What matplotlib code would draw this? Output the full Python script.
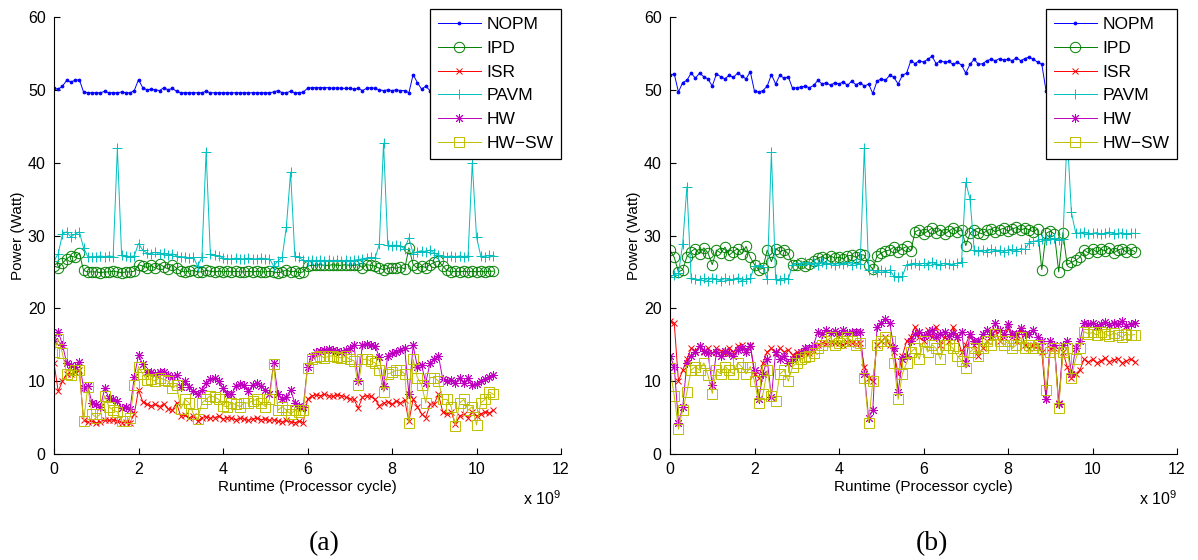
import numpy as np
import matplotlib
matplotlib.use("Agg")
import matplotlib.pyplot as plt

plt.rcParams['font.family'] = ['Liberation Sans', 'DejaVu Sans']
plt.rcParams['mathtext.default'] = 'regular'

# ---------------- data: panel (a) ----------------
runtime_a = np.round(np.arange(105) * 0.1, 1) * 1e9

nopm_a = [50.2, 50.1, 50.5, 51.3, 51.1, 51.3, 51.4, 49.7, 49.6, 49.6,
          49.6, 49.6, 49.8, 49.6, 49.6, 49.6, 49.7, 49.6, 49.6, 49.9,
          51.4, 50.3, 50.0, 50.1, 50.0, 49.9, 50.3, 50.0, 50.2, 49.8,
          49.6, 49.6, 49.6, 49.6, 49.6, 49.6, 49.8, 49.6, 49.6, 49.6,
          49.6, 49.6, 49.6, 49.6, 49.6, 49.6, 49.6, 49.6, 49.6, 49.6,
          49.6, 49.6, 49.7, 49.9, 49.6, 49.6, 49.8, 49.6, 49.6, 49.7,
          50.2, 50.3, 50.3, 50.3, 50.3, 50.3, 50.2, 50.3, 50.2, 50.2,
          50.2, 50.1, 50.2, 49.9, 50.2, 50.3, 50.2, 50.0, 49.9, 50.0,
          49.9, 50.0, 49.9, 49.9, 49.6, 52.1, 51.0, 50.1, 50.5, 49.9,
          50.3, 50.3, 50.2, 50.3, 50.3, 50.2, 50.3, 50.3, 50.2, 50.3,
          50.3, 50.2, 50.3, 50.3, 50.2]
ipd_a = [25.8, 25.6, 26.2, 26.8, 27.2, 27.0, 27.6, 25.2, 25.0, 25.0,
         25.0, 24.9, 25.0, 25.0, 25.1, 25.0, 24.9, 25.0, 25.0, 25.1,
         26.0, 25.8, 25.6, 25.9, 25.5, 26.1, 25.7, 25.4, 26.0, 25.5,
         25.1, 25.0, 25.1, 25.2, 25.0, 25.0, 25.2, 25.1, 25.0, 25.1,
         25.0, 25.1, 25.0, 25.1, 25.0, 25.0, 25.1, 25.0, 25.1, 25.0,
         25.0, 25.1, 25.0, 24.9, 25.0, 25.3, 25.0, 25.1, 24.9, 25.0,
         25.8, 25.9, 25.9, 26.0, 25.9, 25.9, 26.0, 25.9, 25.9, 26.0,
         25.9, 25.9, 26.0, 25.6, 26.0, 25.9, 25.8, 25.5, 25.3, 25.5,
         25.6, 25.5, 25.7, 25.4, 28.3, 26.0, 25.5, 25.8, 25.6, 26.0,
         26.3, 26.5, 25.8, 25.2, 25.0, 25.1, 25.0, 25.1, 25.0, 25.1,
         25.0, 25.1, 25.0, 25.1, 25.1]
isr_a = [12.5, 8.6, 10.0, 11.0, 11.0, 11.2, 11.5, 4.6, 4.4, 4.5,
         4.3, 4.4, 4.7, 4.6, 4.7, 4.5, 4.3, 4.4, 4.3, 5.5,
         8.8, 7.2, 6.8, 6.6, 6.8, 6.5, 6.9, 6.2, 6.0, 7.0,
         5.2, 5.3, 5.0, 5.2, 4.5, 5.0, 5.1, 4.9, 5.0, 5.2,
         4.8, 5.0, 4.9, 4.7, 4.9, 4.8, 4.6, 4.8, 4.9, 4.7,
         4.8, 4.6, 4.7, 4.5, 4.4, 4.6, 4.4, 4.3, 4.5, 4.3,
         7.5, 8.0, 8.1, 8.0, 8.2, 8.0, 7.9, 8.1, 8.0, 7.8,
         7.6, 7.5, 6.3, 7.8, 8.0, 7.9, 7.5, 6.6, 7.0, 7.2,
         6.8, 7.3, 7.0, 7.4, 4.5, 7.5, 6.5, 5.5, 5.0, 6.8,
         6.9, 8.2, 5.8, 5.5, 5.8, 4.1, 5.2, 5.5, 5.0, 5.8,
         5.2, 5.5, 5.8, 5.6, 6.0]
pavm_a = [26.5, 27.5, 30.2, 30.5, 29.8, 30.2, 30.5, 28.3, 27.1, 27.1,
          27.1, 27.2, 27.1, 27.2, 27.1, 42.0, 27.3, 27.2, 27.1, 27.2,
          28.9, 28.0, 27.6, 27.5, 27.7, 27.4, 27.6, 27.3, 27.5, 27.2,
          27.0, 27.1, 26.9, 27.0, 25.8, 27.0, 41.5, 27.5, 27.3, 27.2,
          26.9, 26.8, 26.8, 26.9, 26.8, 26.8, 26.9, 26.8, 26.8, 26.9,
          26.8, 26.8, 25.8, 26.5, 27.0, 31.2, 38.7, 27.2, 27.0, 26.6,
          26.5, 26.6, 26.5, 26.6, 26.5, 26.6, 26.5, 26.6, 26.5, 26.6,
          26.5, 26.6, 26.7, 26.8, 26.9, 27.0, 26.9, 28.8, 42.7, 28.7,
          28.6, 28.7, 28.5, 28.2, 29.7, 27.5, 27.8, 27.9, 27.8, 28.0,
          27.6, 27.3, 27.2, 27.1, 27.2, 27.1, 27.2, 27.1, 27.2, 40.0,
          29.8, 27.2, 27.1, 27.3, 27.2]
hw_a = [15.5, 16.8, 15.0, 12.5, 12.2, 12.0, 12.7, 9.0, 9.3, 7.0,
        6.8, 6.5, 9.0, 7.7, 7.5, 7.3, 6.3, 6.5, 6.2, 10.6,
        13.6, 12.3, 11.2, 11.3, 11.0, 11.2, 11.3, 10.8, 10.6, 10.8,
        9.2, 10.0, 9.2, 8.6, 8.2, 8.8, 9.8, 10.3, 10.4, 10.0,
        9.0, 8.3, 8.2, 9.3, 9.6, 9.5, 8.6, 9.5, 9.8, 9.3,
        8.8, 8.2, 12.5, 8.2, 7.5, 7.8, 8.8, 7.0, 6.6, 6.5,
        12.0, 13.5, 14.0, 14.2, 14.3, 14.4, 14.3, 14.2, 14.0, 14.3,
        14.5, 15.0, 10.0, 15.0, 15.1, 15.0, 14.8, 13.3, 9.4, 13.5,
        13.8, 14.0, 14.3, 14.5, 8.2, 14.9, 12.0, 12.2, 9.8, 12.5,
        13.0, 13.5, 10.3, 10.0, 10.2, 9.8, 10.5, 9.7, 10.4, 9.5,
        9.6, 10.0, 10.3, 10.6, 10.8]
hwsw_a = [14.0, 15.8, 13.8, 11.0, 10.8, 11.5, 11.5, 4.5, 9.2, 5.5,
          5.0, 5.5, 8.0, 6.5, 6.0, 5.8, 4.5, 4.5, 5.0, 9.5,
          12.0, 11.0, 10.2, 10.3, 10.0, 10.5, 10.2, 10.0, 9.0, 9.5,
          6.2, 7.5, 7.0, 5.5, 4.8, 7.0, 7.5, 8.0, 7.8, 7.5,
          6.6, 6.5, 7.0, 6.8, 6.5, 7.0, 7.0, 7.3, 7.5, 7.0,
          6.5, 7.5, 12.3, 6.0, 6.5, 6.0, 5.5, 6.0, 5.8, 6.0,
          11.8, 13.0, 13.3, 13.5, 13.2, 13.4, 13.5, 13.3, 13.2, 13.4,
          13.0, 12.8, 9.5, 13.0, 13.0, 12.8, 12.5, 11.5, 8.5, 11.0,
          11.2, 11.5, 11.5, 11.0, 4.2, 13.0, 10.5, 9.5, 7.0, 10.5,
          10.5, 10.0, 7.5, 7.5, 6.5, 3.9, 7.0, 7.5, 6.0, 6.5,
          4.0, 7.0, 7.5, 8.5, 8.2]

# ---------------- data: panel (b) ----------------
runtime_b = np.round(np.arange(111) * 0.1, 1) * 1e9

nopm_b = [52.0, 52.2, 49.7, 51.0, 51.3, 52.3, 51.6, 52.3, 51.8, 51.5,
          50.5, 52.2, 51.8, 51.5, 52.0, 51.7, 52.3, 51.9, 51.5, 52.5,
          49.8, 49.7, 49.9, 50.5, 52.1, 50.8, 52.0, 51.6, 51.8, 50.2,
          50.3, 50.4, 50.5, 50.3, 50.6, 51.3, 50.8, 51.0, 50.6, 51.0,
          50.8, 51.1, 50.6, 51.2, 50.7, 51.0, 50.5, 50.8, 49.5, 51.2,
          51.5, 51.3, 52.0, 51.7, 50.8, 52.0, 52.3, 54.0, 53.6, 54.0,
          53.8, 54.2, 54.6, 53.6, 54.0, 53.8, 53.9, 53.5, 53.8, 53.4,
          52.3, 53.5, 54.2, 53.5, 53.6, 54.0, 54.2, 54.0, 54.3, 54.1,
          54.2, 54.0, 54.4, 54.0, 54.3, 54.5, 54.2, 53.8, 53.5, 49.9,
          53.8, 54.0, 54.2, 54.0, 54.3, 54.0, 54.2, 54.1, 54.0, 54.3,
          54.2, 54.0, 54.3, 54.1, 54.0, 54.2, 54.3, 54.0, 54.1, 54.2, 54.0]
ipd_b = [28.0, 27.0, 25.0, 25.3, 27.1, 27.8, 28.2, 27.5, 28.3, 27.6,
         26.0, 28.0, 27.6, 28.4, 27.3, 27.8, 28.2, 27.5, 28.5, 27.0,
         26.0, 25.3, 25.5, 28.0, 26.4, 28.2, 27.8, 28.0, 27.5, 26.0,
         25.9, 26.2, 25.8, 26.1, 26.5, 26.9, 27.1, 26.8, 27.2, 26.9,
         27.0, 26.8, 27.2, 27.3, 27.0, 27.4, 27.3, 26.0, 25.4, 27.2,
         27.6, 27.9, 28.0, 28.4, 27.8, 28.2, 28.5, 27.9, 30.5, 30.8,
         30.2, 30.6, 31.0, 30.4, 30.8, 30.2, 30.6, 31.0, 30.5, 30.8,
         28.6, 30.3, 30.8, 30.4, 30.2, 30.7, 30.9, 30.5, 30.8, 31.0,
         30.6, 30.9, 31.1, 30.7, 31.0, 30.8, 30.5, 30.9, 25.3, 30.3,
         30.6, 30.2, 25.0, 30.4, 26.0, 26.3, 26.6, 27.0, 28.0, 27.6,
         28.2, 27.7, 28.1, 27.9, 28.3, 27.6, 28.0, 28.2, 27.7, 28.1, 27.8]
isr_b = [18.2, 18.0, 10.0, 11.5, 13.0, 14.5, 14.2, 14.8, 14.0, 14.5,
         13.8, 14.5, 14.2, 13.9, 14.6, 14.0, 14.8, 15.0, 14.3, 15.0,
         11.0, 10.5, 12.5, 14.0, 14.5, 13.8, 14.5, 14.0, 14.3, 13.6,
         14.0, 13.6, 14.0, 13.8, 14.2, 15.0, 15.3, 15.1, 15.4, 15.2,
         15.3, 15.0, 15.4, 15.2, 15.1, 15.3, 12.0, 10.5, 10.0, 15.0,
         15.5, 16.0, 15.0, 14.0, 11.0, 13.5, 15.5, 16.0, 17.5, 16.0,
         15.5, 17.0, 16.0, 17.5, 15.0, 16.0, 15.5, 17.5, 16.0, 14.0,
         15.0, 16.5, 15.0, 13.5, 14.5, 15.5, 16.0, 17.0, 15.5, 16.0,
         17.3, 16.0, 15.5, 17.0, 15.0, 14.5, 15.0, 15.0, 14.0, 7.5,
         14.5, 14.5, 7.0, 14.0, 12.0, 10.5, 11.0, 11.5, 13.0, 12.6,
         13.0, 12.5, 12.8, 13.2, 12.6, 12.9, 13.1, 12.5, 12.8, 13.0, 12.7]
pavm_b = [24.3, 24.6, 24.8, 28.8, 36.7, 24.2, 24.0, 23.9, 24.1, 23.8,
          24.2, 24.0, 23.8, 24.1, 23.9, 24.0, 24.2, 23.8, 24.0, 24.1,
          25.8, 25.9, 25.7, 24.0, 41.4, 24.0, 23.9, 24.1, 24.0, 26.0,
          26.2, 26.0, 26.3, 26.1, 26.2, 26.0, 26.3, 26.1, 26.2, 26.0,
          26.2, 26.1, 26.3, 26.0, 26.2, 26.1, 42.0, 25.3, 25.2, 25.0,
          25.2, 25.0, 25.3, 24.4, 24.3, 24.4, 26.0, 26.1, 26.2, 26.0,
          26.2, 26.0, 26.3, 26.1, 26.0, 26.2, 26.1, 26.0, 26.2, 26.3,
          37.3, 35.0, 28.0, 27.9, 28.0, 27.8, 28.1, 27.9, 28.0, 27.8,
          28.0, 28.1, 27.9, 28.2, 28.1, 29.0, 29.2, 29.3, 29.5, 29.4,
          29.5, 29.6, 29.4, 29.5, 44.0, 33.2, 30.4, 30.3, 30.5, 30.2,
          30.3, 30.4, 30.2, 30.3, 30.5, 30.2, 30.3, 30.4, 30.2, 30.3, 30.3]
hw_b = [13.5, 12.0, 4.3, 6.4, 12.5, 13.5, 14.0, 14.8, 14.2, 13.8,
        9.5, 14.0, 13.5, 14.2, 13.8, 13.5, 14.3, 14.6, 14.0, 14.8,
        11.5, 7.5, 11.0, 13.0, 7.8, 14.0, 13.0, 13.5, 12.5, 13.0,
        13.5, 14.0, 14.5, 14.5, 15.0, 16.8, 16.5, 17.0, 16.6, 16.9,
        16.5, 17.0, 16.6, 16.8, 16.7, 16.8, 11.0, 5.0, 6.0, 17.5,
        18.0, 18.5, 18.0, 14.5, 8.5, 13.0, 13.5, 15.5, 16.5, 16.8,
        16.2, 16.5, 17.0, 16.0, 16.5, 16.8, 16.2, 16.6, 16.0, 16.8,
        12.5, 16.5, 15.5, 15.5, 16.5, 17.0, 16.5, 18.0, 17.0, 16.5,
        17.8, 16.5, 16.5, 17.3, 16.5, 16.5, 17.0, 16.0, 15.5, 7.5,
        15.5, 15.0, 6.8, 15.0, 15.5, 11.0, 14.5, 15.5, 18.0, 17.8,
        18.0, 17.6, 17.9, 18.1, 17.7, 18.0, 17.8, 18.2, 17.6, 17.9, 18.0]
hwsw_b = [11.8, 8.0, 3.4, 6.0, 8.5, 11.5, 12.0, 11.5, 12.5, 10.8,
          8.3, 11.5, 11.0, 12.0, 11.5, 11.0, 12.5, 12.0, 11.0, 12.0,
          10.0, 7.0, 8.2, 11.5, 8.0, 7.3, 11.0, 11.5, 10.0, 12.0,
          12.5, 13.0, 13.3, 13.5, 13.8, 14.5, 15.0, 15.5, 16.0, 15.0,
          15.3, 15.5, 16.0, 15.5, 15.0, 15.3, 10.5, 4.3, 10.0, 15.0,
          15.5, 16.0, 15.5, 12.5, 7.5, 11.0, 12.5, 14.0, 14.5, 13.0,
          15.5, 14.0, 15.0, 14.5, 13.0, 15.0, 15.0, 14.5, 13.5, 12.8,
          11.8, 14.0, 14.5, 13.5, 14.5, 15.5, 15.0, 16.5, 15.5, 15.0,
          15.5, 14.5, 15.0, 16.0, 14.5, 15.0, 14.5, 15.0, 14.5, 8.8,
          14.0, 14.5, 6.3, 14.0, 14.5, 10.5, 13.0, 14.5, 16.8, 16.5,
          16.7, 16.3, 16.8, 16.5, 16.2, 16.6, 16.4, 16.0, 16.5, 16.3, 16.4]

labels = ['NOPM', 'IPD', 'ISR', 'PAVM', 'HW', 'HW\u2212SW']
xticks = [0, 2, 4, 6, 8, 10, 12]
yticks = [0, 10, 20, 30, 40, 50, 60]
panel_names = ['(a)', '(b)']

styles = [
    dict(color=(0, 0, 1), marker='.', ms=4),
    dict(color=(0, 0.5, 0), marker='o', ms=7.5, mfc='none'),
    dict(color=(1, 0, 0), marker='x', ms=5),
    dict(color=(0, 0.75, 0.75), marker='+', ms=7),
    dict(color=(0.75, 0, 0.75), marker=(8, 2, 0), ms=6.5),
    dict(color=(0.75, 0.75, 0), marker='s', ms=6.5, mfc='none'),
]

fig = plt.figure(figsize=(11.98, 5.6), dpi=100)
axes = [fig.add_axes([54 / 1198, 106 / 560, 507 / 1198, 437 / 560]),
        fig.add_axes([670 / 1198, 106 / 560, 507 / 1198, 437 / 560])]

panels = [(runtime_a, [nopm_a, ipd_a, isr_a, pavm_a, hw_a, hwsw_a]),
          (runtime_b, [nopm_b, ipd_b, isr_b, pavm_b, hw_b, hwsw_b])]

for ax, (x, series), name in zip(axes, panels, panel_names):
    for ys, lab, st in zip(series, labels, styles):
        ax.plot(x, ys, label=lab, lw=0.7, mew=0.7, **st)
    ax.set_xlim(0, 12e9)
    ax.set_ylim(0, 60)
    ax.set_xticks([t * 1e9 for t in xticks])
    ax.set_xticklabels([str(t) for t in xticks])
    ax.set_yticks(yticks)
    ax.set_yticklabels([str(t) for t in yticks])
    for s in ['top', 'right']:
        ax.spines[s].set_visible(False)
    for s in ['left', 'bottom']:
        ax.spines[s].set_linewidth(0.8)
    ax.tick_params(direction='in', length=4, width=0.8, labelsize=11.5, pad=6)
    ax.set_xlabel('Runtime (Processor cycle)', fontsize=11, labelpad=2)
    ax.set_ylabel('Power (Watt)', fontsize=11, labelpad=2)
    ax.text(1.0, -0.102, 'x 10$^{9}$', transform=ax.transAxes, ha='right',
            va='center', fontsize=11.5)
    leg = ax.legend(loc='upper right', bbox_to_anchor=(1.0, 1 + 8 / 437),
                    borderaxespad=0, fancybox=False, framealpha=1,
                    edgecolor='black', fontsize=12.5, numpoints=1,
                    handlelength=2.5, handletextpad=0.3, labelspacing=0.5,
                    borderpad=0.45)
    leg.get_frame().set_linewidth(0.9)
    leg.set_zorder(10)

fig.text(324 / 1198, 1 - 544 / 560, panel_names[0], ha='center', va='center',
         fontsize=20, family='Liberation Serif')
fig.text(932 / 1198, 1 - 544 / 560, panel_names[1], ha='center', va='center',
         fontsize=20, family='Liberation Serif')

fig.savefig('out.png', dpi=100)
